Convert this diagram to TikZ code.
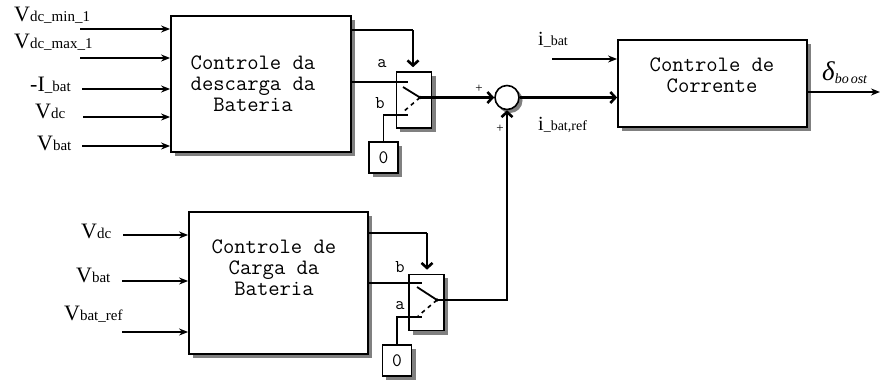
\documentclass[tikz,border=0pt]{standalone}
\usepackage{fontspec}
\setmainfont{Liberation Serif}
\usetikzlibrary{arrows.meta}
\newcommand{\siglab}[2]{{\fontsize{22}{22}\selectfont #1}{\fontsize{15}{15}\selectfont #2}}
\newcommand{\curlab}[2]{{\fontsize{20}{20}\selectfont #1}{\fontsize{14}{14}\selectfont #2}}
\definecolor{shadgray}{RGB}{128,128,128}
\begin{document}
\begin{tikzpicture}[x=1pt,y=-1pt,
  shadfill/.style={fill=shadgray},
  blk/.style={draw,line width=1.8pt,fill=white,inner sep=0},
  swbox/.style={draw,line width=1.6pt,fill=white,inner sep=0,minimum width=35pt,minimum height=56pt},
  zbox/.style={draw,line width=1.5pt,fill=white,inner sep=0,minimum width=29pt,minimum height=31pt,font=\ttfamily\fontsize{19}{19}\selectfont},
  btxt/.style={align=center,font=\ttfamily\fontsize{22}{21}\selectfont,inner sep=0},
  lab/.style={anchor=base west,inner sep=0},
  swl/.style={inner sep=0,font=\ttfamily\fontsize{18}{18}\selectfont},
  pl/.style={inner sep=0,font=\fontsize{13}{13}\selectfont},
  inarr/.style={line width=2.3pt,-{Stealth[length=9pt,width=7pt]}},
  barb/.style={line width=2.6pt,-{Straight Barb[length=5pt,width=11pt,line width=2.6pt]}},
  thin/.style={line width=1.4pt}
]
\useasboundingbox (0,0) rectangle (880,381);

% blocks (shadow drawn first, offset right and down)
\path[shadfill] (175,20) rectangle (355,156);
\node[blk,minimum width=180pt,minimum height=136pt] (tb) at (261,84) {};
\node[btxt] (tbt) at (253,84) {Controle da\\descarga da\\Bateria};
\path[shadfill] (193,216) rectangle (372,358);
\node[blk,minimum width=179pt,minimum height=142pt] (bb) at (278.5,283) {};
\node[btxt] (bbt) at (274,268) {Controle de\\Carga da\\Bateria};
\path[shadfill] (622,44) rectangle (811,131);
\node[blk,minimum width=189pt,minimum height=87pt] (cc) at (712.5,83.5) {};
\node[btxt] (cct) at (712,75) {Controle de\\Corrente};

% switches and constants
\path[shadfill] (400,76) rectangle (436,132);
\node[swbox] (sw1) at (414,100) {};
\path[shadfill] (413,278) rectangle (448,335);
\node[swbox] (sw2) at (426.5,302.5) {};
\path[shadfill] (373,146) rectangle (402,177);
\node[zbox] (zero1) at (383.5,157.5) {0};
\path[shadfill] (386,349) rectangle (416,380);
\node[zbox] (zero2) at (397,360.5) {0};
\path[shadfill] (510,100.5) circle (12.5);
\node[draw,circle,line width=1.6pt,fill=white,minimum size=24pt,inner sep=0] (sum) at (507,97.5) {};

% input labels top
\node[lab] (l1) at (14,21) {\siglab{V}{dc\_min\_1}};
\node[lab] (l2) at (14,48) {\siglab{V}{dc\_max\_1}};
\node[lab] (l3) at (30,91) {\siglab{-I}{\_bat}};
\node[lab] (l4) at (35,118) {\siglab{V}{dc}};
\node[lab] (l5) at (37,150) {\siglab{V}{bat}};
% input labels bottom
\node[lab] (m1) at (81,238) {\siglab{V}{dc}};
\node[lab] (m2) at (76,282) {\siglab{V}{bat}};
\node[lab] (m3) at (64,320) {\siglab{V}{bat\_ref}};
% right labels
\node[lab] (r1) at (538,45) {\curlab{i}{\_bat}};
\node[lab] (r2) at (538,130) {\curlab{i}{\_bat,ref}};
\node[lab] (r3) at (822,80) {{\fontsize{27}{27}\selectfont\itshape δ}\raisebox{-3pt}{\fontsize{14}{14}\selectfont\itshape bo\hspace{2pt}ost}};

% switch letters and signs
\node[swl] (sa1) at (382,64) {a};
\node[swl] (sb1) at (380,103) {b};
\node[swl] (sb2) at (400,267) {b};
\node[swl] (sa2) at (400,306) {a};
\node[pl] (p1) at (479,89) {+};
\node[pl] (p2) at (500,129) {+};

% input coordinates
\coordinate (i1) at (80,29);
\coordinate (i2) at (80,58);
\coordinate (i3) at (82,89);
\coordinate (i4) at (83,117);
\coordinate (i5) at (82,146);
\coordinate (j1) at (123,235);
\coordinate (j2) at (122,281);
\coordinate (j3) at (122,332);
\foreach \c in {i1,i2,i3,i4,i5} \draw[inarr] (\c) -- (\c -| tb.west);
\foreach \c in {j1,j2,j3} \draw[inarr] (\c) -- (\c -| bb.west);

% top switch wiring
\coordinate (k1) at (413,30);
\coordinate (a1) at (408,82);
\coordinate (b1) at (408,115);
\coordinate (q1) at (403,87);
\coordinate (o1) at (420,97.5);
\coordinate (d1) at (403,112);
\draw[line width=1.4pt] (k1 -| tb.east) -- (k1);
\draw[barb,shorten >=4pt] (k1) -- (k1 |- sw1.north);
\draw[thin] (a1 -| tb.east) -- (a1);
\draw[thin] (zero1.north) |- (b1);
\draw[line width=1.8pt] (q1) -- (o1);
\draw[line width=1.6pt,dash pattern=on 4pt off 4pt] (o1) -- (d1);
\fill (o1) circle (1.8pt);
\draw[barb,line width=3pt] (o1) -- (sum.west);

% bottom switch wiring
\coordinate (k2) at (427,233);
\coordinate (a2) at (422,317);
\coordinate (b2) at (422,283);
\coordinate (q2) at (417,287);
\coordinate (o2) at (437,300);
\coordinate (d2) at (418,316);
\draw[line width=1.6pt] (k2 -| bb.east) -- (k2);
\draw[barb,shorten >=4pt] (k2) -- (k2 |- sw2.north);
\draw[thin] (b2 -| bb.east) -- (b2);
\draw[thin] (zero2.north) |- (a2);
\draw[line width=1.8pt] (q2) -- (o2);
\draw[line width=1.6pt,dash pattern=on 4pt off 4pt] (o2) -- (d2);
\fill (o2) circle (1.8pt);
\draw[barb,line width=2.2pt] (o2) -| (sum.south);

% right side
\coordinate (ib) at (552,59);
\coordinate (ob) at (880,92);
\draw[barb,line width=3pt] (sum.east) -- (sum.east -| cc.west);
\draw[inarr,line width=2.5pt] (ib) -- (ib -| cc.west);
\draw[inarr,line width=2.5pt] (ob -| cc.east) -- (ob);
\end{tikzpicture}
\end{document}
